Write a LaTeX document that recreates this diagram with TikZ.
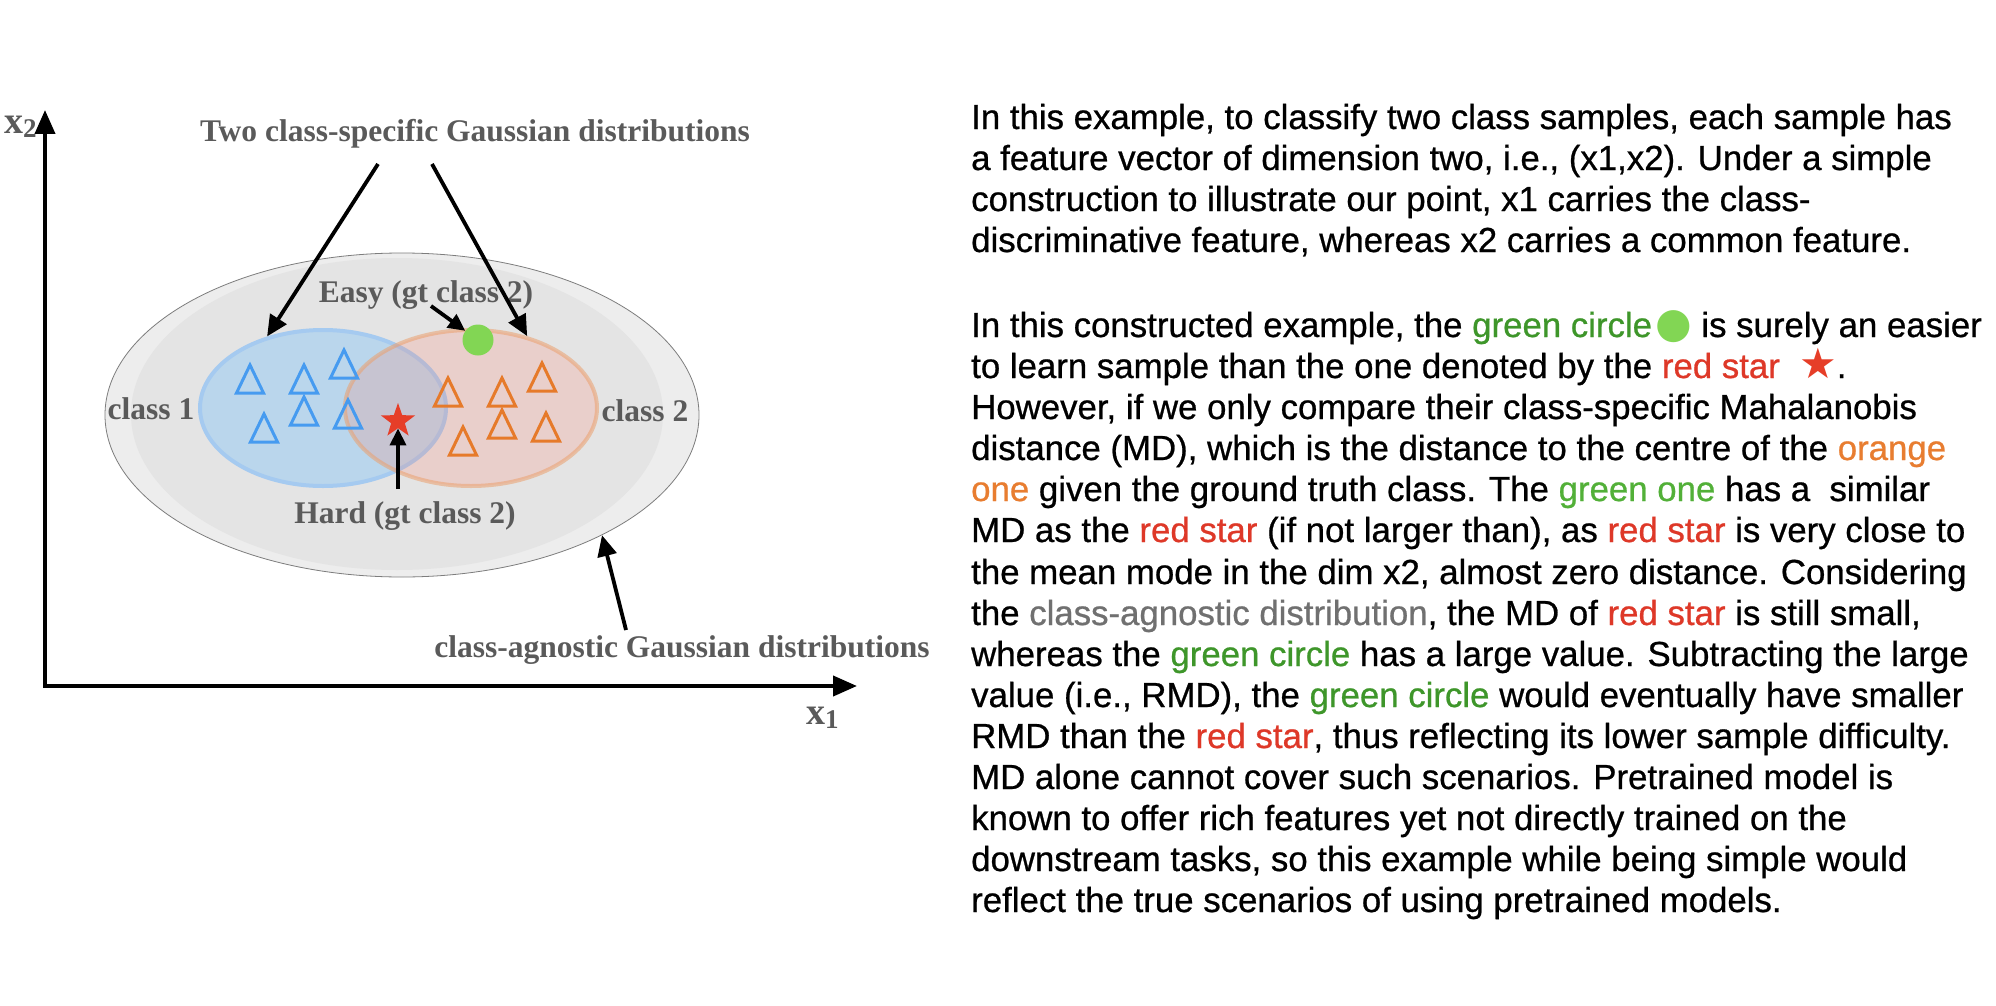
\documentclass[tikz,border=0pt]{standalone}
\usepackage{fontspec}
\setmainfont{Liberation Serif}
\newfontfamily\sansf[FakeBold=0.7]{Liberation Sans}
\newfontfamily\symf{DejaVu Sans}
\usetikzlibrary{arrows.meta,shapes.geometric}
\definecolor{labgray}{RGB}{90,90,90}
\definecolor{agfill}{RGB}{228,228,228}
\definecolor{agrim}{RGB}{237,237,237}
\definecolor{agline}{RGB}{125,125,125}
\definecolor{cAfill}{RGB}{186,214,236}
\definecolor{cAline}{RGB}{165,202,240}
\definecolor{cBfill}{RGB}{254,124,104}
\definecolor{cBline}{RGB}{235,160,110}
\definecolor{tblue}{RGB}{70,155,240}
\definecolor{torange}{RGB}{230,122,42}
\definecolor{dotgreen}{RGB}{130,214,84}
\definecolor{starred}{RGB}{230,62,40}
\definecolor{txgreen}{RGB}{62,150,42}
\definecolor{txgreenb}{RGB}{82,176,56}
\definecolor{txred}{RGB}{222,56,40}
\definecolor{txorange}{RGB}{232,125,48}
\definecolor{txgray}{RGB}{112,112,112}
\tikzset{
  lab/.style={font=\bfseries\fontsize{31.5}{34}\selectfont, text=labgray, inner sep=0pt, anchor=base},
  axlab/.style={font=\bfseries\fontsize{38}{38}\selectfont, text=labgray, inner sep=0pt, anchor=base west},
  para/.style={font=\sansf\fontsize{34.8}{41}\selectfont, text=black, inner sep=0pt, anchor=base west},
  annarrow/.style={line width=3.8pt, -{Triangle[length=21pt,width=19pt]}},
  smallarrow/.style={line width=3.8pt, -{Triangle[length=17pt,width=16pt]}},
  axisline/.style={line width=4pt, {Triangle[length=24pt,width=20pt]}-{Triangle[length=24pt,width=20pt]}},
  blt/.style={draw=tblue, line width=3pt, line join=miter},
  ort/.style={draw=torange, line width=3pt, line join=miter},
  tri/.pic={\draw[pic actions] (-13.5,14) -- (0,-14) -- (13.5,14) -- cycle;}
}
\newcommand\gw[1]{{\color{txgreen}#1}}
\newcommand\gwb[1]{{\color{txgreenb}#1}}
\newcommand\rw[1]{{\color{txred}#1}}
\newcommand\ow[1]{{\color{txorange}#1}}
\newcommand\aw[1]{{\color{txgray}#1}}
\begin{document}
\begin{tikzpicture}[x=1pt,y=-1pt]
\useasboundingbox (0,0) rectangle (1996,1006);
\fill[white] (0,0) rectangle (1996,1006);

% axes
\coordinate (ytop) at (45,110);
\coordinate (O) at (45,686);
\coordinate (xend) at (857,686);
\draw[axisline, line join=miter] (ytop) -- (O) -- (xend);
\node[axlab] (xtwo) at (4,133) {x\raisebox{-4pt}{\fontsize{27}{27}\selectfont 2}};
\node[axlab] (xone) at (806,724) {x\raisebox{-4pt}{\fontsize{27}{27}\selectfont 1}};

% class-agnostic ellipse
\node[ellipse, draw=agline, line width=0.8pt, fill=agrim, minimum width=594pt, minimum height=324pt, inner sep=0pt] (agn) at (402,415) {};
\fill[agfill] (397,414) ellipse [x radius=266pt, y radius=156pt];

% class ellipses
\node[ellipse, fill=cAfill, draw=cAline, line width=4pt, minimum width=246pt, minimum height=156pt, inner sep=0pt] (cA) at (323,408) {};
\node[ellipse, fill=cBfill, fill opacity=0.2, draw=cBline, draw opacity=0.55, line width=4pt, minimum width=252pt, minimum height=156pt, inner sep=0pt] (cB) at (471,408) {};

% triangles
\pic[blt] at (250,379) {tri};
\pic[blt] at (304,379) {tri};
\pic[blt] at (344,364) {tri};
\pic[blt] at (264,428) {tri};
\pic[blt] at (304,411) {tri};
\pic[blt] at (348,414) {tri};
\pic[ort] at (448,392) {tri};
\pic[ort] at (502,392) {tri};
\pic[ort] at (542,377) {tri};
\pic[ort] at (463,441) {tri};
\pic[ort] at (502,424) {tri};
\pic[ort] at (546,427) {tri};

% samples
\node[star, star points=5, star point ratio=2.5, fill=starred, minimum size=36pt, inner sep=0pt] (hardstar) at (398,421) {};
\node[circle, fill=dotgreen, minimum size=31pt, inner sep=0pt] (gdot) at (478,340) {};

% labels
\node[lab] (title) at (475,142) {Two class-specific Gaussian distributions};
\node[lab] (easy) at (426,302) {Easy (gt class 2)};
\node[lab] (hard) at (405,523) {Hard (gt class 2)};
\node[lab] (cone) at (151,419) {class 1};
\node[lab] (ctwo) at (645,421) {class 2};
\node[lab] (agtext) at (682,657) {class-agnostic Gaussian distributions};

% arrows
\coordinate (tl) at (378,164);
\coordinate (tr) at (432,164);
\coordinate (ea) at (431,306);
\coordinate (ha) at (398,489);
\coordinate (ag) at (626,630);
\draw[annarrow] (tl) -- (cA.128);
\draw[annarrow] (tr) -- (cB.52);
\draw[smallarrow] (ea) -- (gdot);
\draw[smallarrow] (ha) -- (hardstar);
\draw[annarrow] (ag) -- (agn.-31.5);

% right text
\node[para] (a1) at (971,129) {In this example, to classify two class samples, each sample has};
\node[para] (a2) at (971,170) {a feature vector of dimension two, i.e., (x1,x2). Under a simple};
\node[para] (a3) at (971,211) {construction to illustrate our point, x1 carries the class-};
\node[para] (a4) at (971,252) {discriminative feature, whereas x2 carries a common feature.};

\node[para] (b1) at (971,337) {In this constructed example, the \gw{green circle}\hspace{3pt}{\color{dotgreen}\symf\fontsize{42}{41}\selectfont ●} is surely an easier};
\node[para] (b2) at (971,378) {to learn sample than the one denoted by the \rw{red star}\ \ {\color{starred}\symf\fontsize{42}{41}\selectfont ★}.};
\node[para] (b3) at (971,419) {However, if we only compare their class-specific Mahalanobis};
\node[para] (b4) at (971,460) {distance (MD), which is the distance to the centre of the \ow{orange}};
\node[para] (b5) at (971,501) {\ow{one} given the ground truth class. The \gwb{green one} has a\ \ similar};
\node[para] (b6) at (971,542) {MD as the \rw{red star} (if not larger than), as \rw{red star} is very close to};
\node[para] (b7) at (971,584) {the mean mode in the dim x2, almost zero distance. Considering};
\node[para] (b8) at (971,625) {the \aw{class-agnostic distribution}, the MD of \rw{red star} is still small,};
\node[para] (b9) at (971,666) {whereas the \gw{green circle} has a large value. Subtracting the large};
\node[para] (b10) at (971,707) {value (i.e., RMD), the \gw{green circle} would eventually have smaller};
\node[para] (b11) at (971,748) {RMD than the \rw{red star}, thus reflecting its lower sample difficulty.};
\node[para] (b12) at (971,789) {MD alone cannot cover such scenarios. Pretrained model is};
\node[para] (b13) at (971,830) {known to offer rich features yet not directly trained on the};
\node[para] (b14) at (971,871) {downstream tasks, so this example while being simple would};
\node[para] (b15) at (971,912) {reflect the true scenarios of using pretrained models.};
\end{tikzpicture}
\end{document}
